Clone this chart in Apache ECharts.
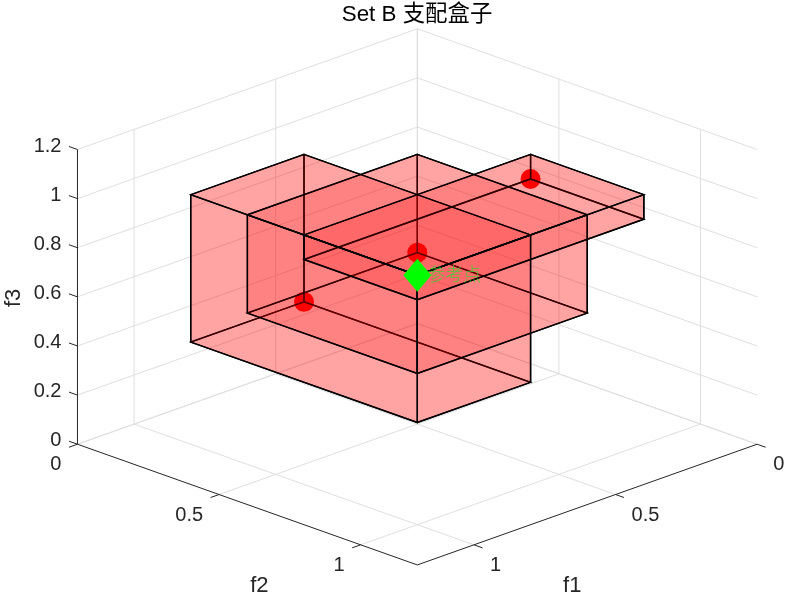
<!DOCTYPE html>
<html>
<head>
<meta charset="utf-8">
<style>html,body{margin:0;padding:0;background:#fff}#c{width:785px;height:596px}</style>
<script src="https://cdn.jsdelivr.net/npm/echarts@6/dist/echarts.min.js"></script>
</head>
<body>
<div id="c"></div>
<script>
// Values
var f1Ticks = [0, 0.5, 1];
var f2Ticks = [0, 0.5, 1];
var f3Ticks = [0, 0.2, 0.4, 0.6, 0.8, 1, 1.2];
var f1Labels = ['0', '0.5', '1'];
var f2Labels = ['0', '0.5', '1'];
var f3Labels = ['0', '0.2', '0.4', '0.6', '0.8', '1', '1.2'];
var axisMax = 1.2;
var setBf1 = [0.6, 0.4, 0.2];
var setBf2 = [0.2, 0.4, 0.6];
var setBf3 = [0.416, 0.616, 0.916];
var refPoint = [1, 1, 1.016];

// Fixed oblique view of the MATLAB axes
var view = {x0: 417.3, y0: 323.5, kx: 283.2, ky: 100.6, kz: 245.6};
function project(p) {
  return [view.x0 + view.kx * (p[1] - p[0]),
          view.y0 + view.ky * (p[0] + p[1]) - view.kz * p[2]];
}
function depth(p) { return 264.6 * (p[0] + p[1]) + 93.3 * p[2]; }

// Grid lines on the floor and the two back walls
var gridSegs = [];
f1Ticks.forEach(function (v) {
  gridSegs.push([[v, 0, 0], [v, axisMax, 0]]);
  gridSegs.push([[v, 0, 0], [v, 0, axisMax]]);
});
f2Ticks.forEach(function (v) {
  gridSegs.push([[0, v, 0], [axisMax, v, 0]]);
  gridSegs.push([[0, v, 0], [0, v, axisMax]]);
});
f3Ticks.forEach(function (v) {
  gridSegs.push([[0, 0, v], [axisMax, 0, v]]);
  gridSegs.push([[0, 0, v], [0, axisMax, v]]);
});

// Axis rulers with their ticks
var axisSegs = [
  [[axisMax, 0, 0], [axisMax, 0, axisMax]],
  [[axisMax, 0, 0], [axisMax, axisMax, 0]],
  [[0, axisMax, 0], [axisMax, axisMax, 0]]
];
var tickLen = 0.03;
f1Ticks.forEach(function (v) { axisSegs.push([[v, axisMax, 0], [v, axisMax + tickLen, 0]]); });
f2Ticks.forEach(function (v) { axisSegs.push([[axisMax, v, 0], [axisMax + tickLen, v, 0]]); });
f3Ticks.forEach(function (v) { axisSegs.push([[axisMax, 0, v], [axisMax, -tickLen, v]]); });

var lows = setBf1.map(function (a, i) { return [a, setBf2[i], setBf3[i]]; });

// Back faces (lower bound of each box) are separate planes, drawn far to near
var backFaces = [];
var frontRects = [];
var frontUnions = [];
function planePoint(d, v, e1, e2, a, b) {
  var p = [0, 0, 0]; p[d] = v; p[e1] = a; p[e2] = b; return p;
}
[0, 1, 2].forEach(function (d) {
  var e1 = (d + 1) % 3, e2 = (d + 2) % 3, U = refPoint[e1], V = refPoint[e2];
  lows.forEach(function (l) {
    var q = [[l[e1], l[e2]], [U, l[e2]], [U, V], [l[e1], V]];
    backFaces.push({
      pts: q.map(function (c) { return planePoint(d, l[d], e1, e2, c[0], c[1]); }),
      depth: depth(planePoint(d, l[d], e1, e2, (l[e1] + U) / 2, (l[e2] + V) / 2))
    });
    frontRects.push(q.map(function (c) { return planePoint(d, refPoint[d], e1, e2, c[0], c[1]); }));
  });
  // Front faces of all boxes share one plane: they tint once, as one staircase outline
  var sorted = lows.slice().sort(function (a, b) { return a[e1] - b[e1]; });
  var outline = [[U, V], [sorted[0][e1], V]];
  var curV = sorted[0][e2];
  outline.push([sorted[0][e1], curV]);
  sorted.slice(1).forEach(function (l) {
    if (l[e2] < curV) {
      outline.push([l[e1], curV]);
      curV = l[e2];
      outline.push([l[e1], curV]);
    }
  });
  outline.push([U, curV]);
  frontUnions.push(outline.map(function (c) { return planePoint(d, refPoint[d], e1, e2, c[0], c[1]); }));
});
backFaces.sort(function (a, b) { return a.depth - b.depth; });

// Texts anchored on the projected ticks
var texts = [];
f1Ticks.forEach(function (v, i) {
  texts.push({t: f1Labels[i], p: [v, axisMax, 0], dx: 16, dy: 20.5, align: 'left', size: 20});
});
f2Ticks.forEach(function (v, i) {
  texts.push({t: f2Labels[i], p: [axisMax, v, 0], dx: -16, dy: 20.5, align: 'right', size: 20});
});
f3Ticks.forEach(function (v, i) {
  texts.push({t: f3Labels[i], p: [axisMax, 0, v], dx: -16, dy: -3.5, align: 'right', size: 20});
});
texts.push({t: 'f1', p: [0.6, axisMax, 0], dx: -15, dy: 81, align: 'center', size: 22});
texts.push({t: 'f2', p: [axisMax, 0.6, 0], dx: 12, dy: 81, align: 'center', size: 22});
texts.push({t: 'f3', p: [axisMax, 0, 0.6], dx: -64, dy: 1, align: 'center', size: 22, rot: Math.PI / 2});

function polyline(api, seg, style) {
  return {type: 'polyline', shape: {points: seg.map(function (p) { return api.coord(project(p)); })}, style: style, silent: true};
}
function polygon(api, pts, style) {
  return {type: 'polygon', silent: true, shape: {points: pts.map(function (p) { return api.coord(project(p)); })}, style: style};
}
function idx(list) { return list.map(function (_, i) { return [i, 0]; }); }
var faceFill = 'rgba(255,0,0,0.2)';
var edge = {stroke: '#000', lineWidth: 1.4};

var sans = '"Liberation Sans", "Noto Sans CJK SC", sans-serif';
var option = {
  animation: false,
  backgroundColor: '#fff',
  title: {
    text: 'Set B 支配盒子', left: 412, top: -1, textAlign: 'center',
    textStyle: {fontFamily: sans, fontSize: 22.4, fontWeight: 'normal', color: '#000'}
  },
  grid: {left: 0, right: 0, top: 0, bottom: 0},
  xAxis: {type: 'value', min: 0, max: 785, show: false},
  yAxis: {type: 'value', min: 0, max: 596, inverse: true, show: false},
  series: [
    {type: 'custom', coordinateSystem: 'cartesian2d', clip: false, z: 1, data: idx(gridSegs),
      encode: {x: 0, y: 1},
      renderItem: function (params, api) {
        return polyline(api, gridSegs[params.dataIndex], {stroke: '#dfdfdf', lineWidth: 1, fill: 'none'});
      }},
    {type: 'custom', coordinateSystem: 'cartesian2d', clip: false, z: 2, data: idx(axisSegs),
      encode: {x: 0, y: 1},
      renderItem: function (params, api) {
        return polyline(api, axisSegs[params.dataIndex], {stroke: '#262626', lineWidth: 1, fill: 'none'});
      }},
    {type: 'scatter', z: 3, symbol: 'circle', symbolSize: 20, silent: true,
      itemStyle: {color: '#ff0000', opacity: 1},
      data: lows.map(project)},
    {type: 'custom', coordinateSystem: 'cartesian2d', clip: false, z: 4, data: idx(backFaces),
      encode: {x: 0, y: 1},
      renderItem: function (params, api) {
        return polygon(api, backFaces[params.dataIndex].pts, {fill: faceFill, stroke: edge.stroke, lineWidth: edge.lineWidth});
      }},
    {type: 'custom', coordinateSystem: 'cartesian2d', clip: false, z: 5, data: idx(frontUnions),
      encode: {x: 0, y: 1},
      renderItem: function (params, api) {
        return polygon(api, frontUnions[params.dataIndex], {fill: faceFill, stroke: 'none'});
      }},
    {type: 'custom', coordinateSystem: 'cartesian2d', clip: false, z: 6, data: idx(frontRects),
      encode: {x: 0, y: 1},
      renderItem: function (params, api) {
        return polygon(api, frontRects[params.dataIndex], {fill: 'none', stroke: edge.stroke, lineWidth: edge.lineWidth});
      }},
    {type: 'scatter', z: 7, symbol: 'rect', symbolSize: 0, silent: true,
      data: [project(refPoint)],
      label: {show: true, position: 'right', distance: 10, offset: [0, -1], formatter: '参考点',
        fontFamily: '"Noto Sans CJK SC", sans-serif', fontSize: 18, fontWeight: 200, color: '#2ed62e'}},
    {type: 'scatter', z: 8, symbol: 'diamond', symbolSize: [28, 33], silent: true,
      itemStyle: {color: '#00ff00', opacity: 1},
      data: [project(refPoint)]},
    {type: 'custom', coordinateSystem: 'cartesian2d', clip: false, z: 9, data: idx(texts),
      encode: {x: 0, y: 1},
      renderItem: function (params, api) {
        var d = texts[params.dataIndex], c = api.coord(project(d.p));
        return {type: 'text', silent: true, x: c[0] + d.dx, y: c[1] + d.dy, rotation: d.rot || 0,
          style: {text: d.t, fill: '#262626', font: d.size + 'px ' + sans, textAlign: d.align, textVerticalAlign: 'middle'}};
      }}
  ]
};
echarts.init(document.getElementById('c'), null, {renderer: 'canvas'}).setOption(option);
</script>
</body>
</html>
